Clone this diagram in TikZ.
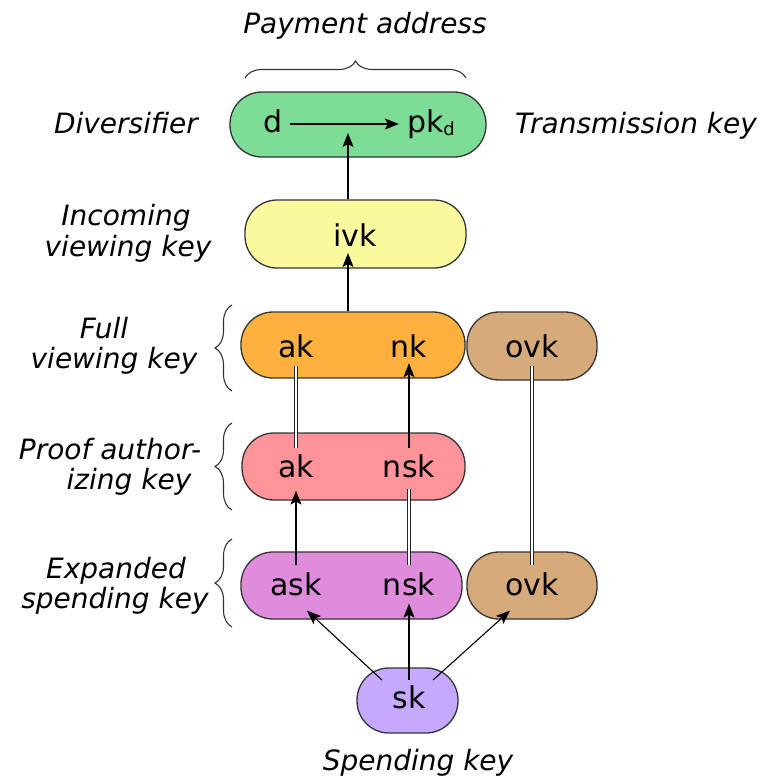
\documentclass[tikz,border=0pt]{standalone}
\usepackage{fontspec}
\setmainfont{DejaVu Sans}[ItalicFont={DejaVu Sans Oblique}]
\usetikzlibrary{arrows.meta,decorations.pathreplacing}
\definecolor{cgreen}{HTML}{7DDC96}
\definecolor{cyellow}{HTML}{FBF99E}
\definecolor{corange}{HTML}{FCB13F}
\definecolor{ctan}{HTML}{D6AA7A}
\definecolor{cpink}{HTML}{FE939A}
\definecolor{cmag}{HTML}{E08CDD}
\definecolor{clav}{HTML}{C7A8FF}
\tikzset{
  keybox/.style={draw=black!80, line width=1.3pt, rounded corners=32pt, inner sep=0pt},
  kt/.style={inner sep=0pt, anchor=base, font=\fontsize{30}{30}\selectfont},
  lab/.style={inner sep=0pt, anchor=base, font=\fontsize{28}{28}\selectfont\itshape},
  arr/.style={line width=1.1pt, -{Stealth[length=14pt,width=11pt,inset=3pt]}},
  dbl/.style={double, double distance=1.8pt, line width=1.1pt, draw=black!85},
  brc/.style={decorate, decoration={brace, amplitude=17pt}, line width=1.1pt, black!80}
}
\begin{document}
\begin{tikzpicture}[x=1pt,y=-1pt]
\useasboundingbox (0,0) rectangle (766,780);
% boxes
\node[keybox, fill=cgreen, minimum width=256pt, minimum height=65pt] (green) at (358,124.5) {};
\node[keybox, fill=cyellow, minimum width=221pt, minimum height=68pt] (yellow) at (355.5,234) {};
\node[keybox, fill=corange, minimum width=224pt, minimum height=66pt] (orange) at (353,345) {};
\node[keybox, fill=ctan, minimum width=130pt, minimum height=68pt] (ovkFbox) at (532,346) {};
\node[keybox, fill=cpink, minimum width=223pt, minimum height=67pt] (pink) at (353.5,466.5) {};
\node[keybox, fill=cmag, minimum width=221pt, minimum height=67pt] (mag) at (351.5,585.5) {};
\node[keybox, fill=ctan, minimum width=130pt, minimum height=67pt] (ovkEbox) at (532,585.5) {};
\node[keybox, fill=clav, minimum width=101pt, minimum height=65pt] (skbox) at (407.5,700.5) {};
% key texts
\node[kt] (d) at (273,132) {d};
\node[kt] (pk) at (431,132) {pk\raisebox{-3pt}{\fontsize{18}{18}\selectfont d}};
\node[kt] (ivk) at (355,246) {ivk};
\node[kt] (akF) at (296,357) {ak};
\node[kt] (nkF) at (409,357) {nk};
\node[kt] (ovkF) at (532,357) {ovk};
\node[kt] (akP) at (296,477) {ak};
\node[kt] (nskP) at (409,477) {nsk};
\node[kt] (askE) at (296,595) {ask};
\node[kt] (nskE) at (409,595) {nsk};
\node[kt] (ovkE) at (532,595) {ovk};
\node[kt] (sk) at (409,708) {sk};
% labels
\node[lab] (lpay) at (365,33) {Payment address};
\node[lab] (ldiv) at (126,133) {Diversifier};
\node[lab] (ltr) at (636,133) {Transmission key};
\node[lab] (linc1) at (126,225) {Incoming};
\node[lab] (linc2) at (128,256) {viewing key};
\node[lab] (lfull1) at (104,338) {Full};
\node[lab] (lfull2) at (114,368) {viewing key};
\node[lab] (lpr1) at (110,459) {Proof author-};
\node[lab] (lpr2) at (129,489) {izing key};
\node[lab] (lex1) at (116,578) {Expanded};
\node[lab] (lex2) at (115,608) {spending key};
\node[lab] (lsp) at (418,770) {Spending key};
% braces
\coordinate (bpL) at (245,78);
\coordinate (bpR) at (466,78);
\draw[brc] (bpL) -- (bpR);
\coordinate (bf1) at (232,391);
\coordinate (bf2) at (232,305);
\draw[brc] (bf1) -- (bf2);
\coordinate (bp1) at (232,510);
\coordinate (bp2) at (232,423);
\draw[brc] (bp1) -- (bp2);
\coordinate (be1) at (232,627);
\coordinate (be2) at (232,539);
\draw[brc] (be1) -- (be2);
% connectors
\draw[arr] ([xshift=7pt,yshift=8pt]d.base east) -- ([xshift=-8pt,yshift=8pt]pk.base west);
\draw[arr] ([xshift=-7.5pt]yellow.north) -- ([xshift=-10pt,yshift=-8.5pt]green.center);
\draw[arr] ([xshift=-5pt]orange.north) -- ([xshift=-7.5pt,yshift=-19pt]yellow.center);
\draw[dbl] ([yshift=-8pt]akF.south) -- ([yshift=6pt]akP.north);
\draw[arr] ([yshift=6pt]nskP.north) -- ([yshift=-6pt]nkF.south);
\draw[dbl] ([yshift=-8pt]ovkF.south) -- ([yshift=7pt]ovkE.north);
\draw[arr] ([yshift=7pt]askE.north) -- ([yshift=-13pt]akP.south);
\draw[dbl] ([yshift=7pt]nskE.north) -- ([yshift=-11pt]nskP.south);
\draw[arr] ([xshift=-27pt,yshift=5pt]sk.north) -- ([xshift=11pt,yshift=-15pt]askE.south);
\draw[arr] ([yshift=5pt]sk.north) -- ([yshift=-8pt]nskE.south);
\draw[arr] ([xshift=24pt,yshift=5pt]sk.north) -- ([xshift=-22pt,yshift=-15pt]ovkE.south);
\end{tikzpicture}
\end{document}
